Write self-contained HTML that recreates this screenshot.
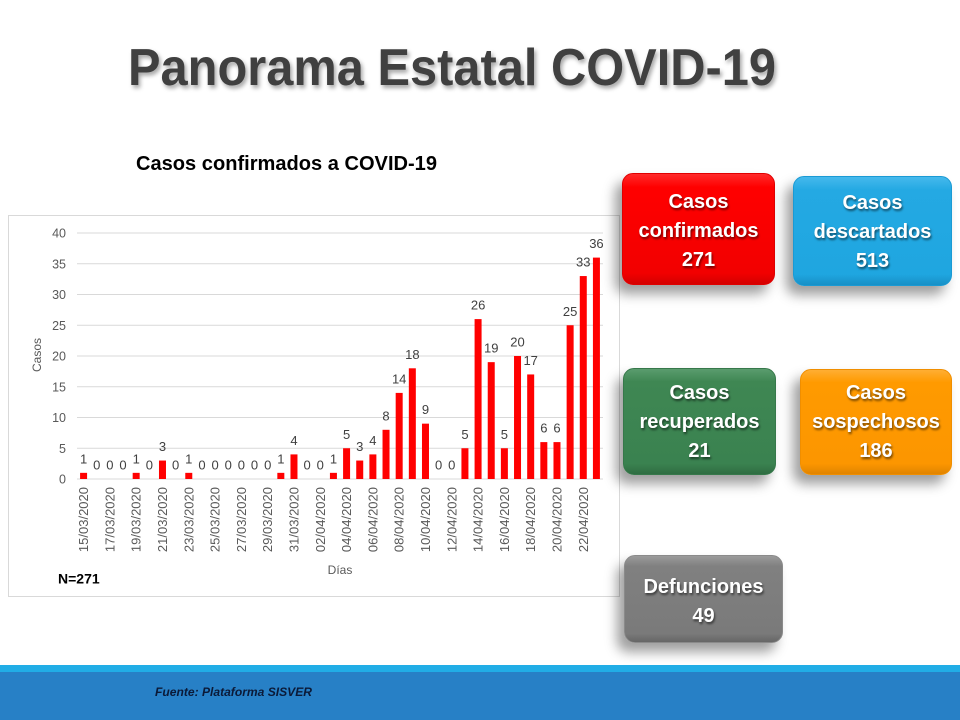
<!DOCTYPE html>
<html><head><meta charset="utf-8"><style>
html,body{margin:0;padding:0;background:#fff;}
#w{position:relative;width:960px;height:720px;overflow:hidden;background:#fff;font-family:"Liberation Sans",sans-serif;}
svg{position:absolute;left:0;top:0;}
.box{position:absolute;border-radius:11px;box-shadow:-7px 9px 12px rgba(0,0,0,0.38);color:#fff;font-weight:bold;font-size:20px;line-height:29px;text-align:center;text-shadow:1px 2px 2px rgba(0,0,0,0.55);box-sizing:border-box;}
.box .t{position:absolute;left:0;right:0;}
</style></head><body><div id="w">
<svg width="960" height="720" viewBox="0 0 960 720" font-family="Liberation Sans, sans-serif">
<defs><filter id="ts" x="-5%" y="-20%" width="115%" height="150%"><feDropShadow dx="2" dy="3" stdDeviation="2" flood-color="#000" flood-opacity="0.35"/></filter></defs>
<text x="128" y="85" font-size="52" font-weight="bold" fill="#404040" textLength="648" lengthAdjust="spacingAndGlyphs" filter="url(#ts)">Panorama Estatal COVID-19</text>
<text x="136" y="170" font-size="20" font-weight="bold" fill="#000" textLength="301" lengthAdjust="spacingAndGlyphs">Casos confirmados a COVID-19</text>
<rect x="8.5" y="215.5" width="611" height="381" fill="#fff" stroke="#d9d9d9" stroke-width="1"/>
<g stroke="#d9d9d9" stroke-width="1">
<line x1="77" x2="603" y1="479" y2="479"/><line x1="77" x2="603" y1="448.25" y2="448.25"/><line x1="77" x2="603" y1="417.5" y2="417.5"/><line x1="77" x2="603" y1="386.75" y2="386.75"/><line x1="77" x2="603" y1="356" y2="356"/><line x1="77" x2="603" y1="325.25" y2="325.25"/><line x1="77" x2="603" y1="294.5" y2="294.5"/><line x1="77" x2="603" y1="263.75" y2="263.75"/><line x1="77" x2="603" y1="233" y2="233"/>
</g>
<g font-size="12.5" fill="#595959" text-anchor="end">
<text x="66" y="483.5">0</text><text x="66" y="452.75">5</text><text x="66" y="422">10</text><text x="66" y="391.25">15</text><text x="66" y="360.5">20</text><text x="66" y="329.75">25</text><text x="66" y="299">30</text><text x="66" y="268.25">35</text><text x="66" y="237.5">40</text>
</g>
<text transform="translate(41,355) rotate(-90)" font-size="12" fill="#595959" text-anchor="middle">Casos</text>
<text x="340" y="574" font-size="12" fill="#595959" text-anchor="middle">Días</text>
<g fill="#ff0000">
<rect x="80.08" y="472.85" width="7" height="6.15"/>
<rect x="132.68" y="472.85" width="7" height="6.15"/>
<rect x="158.98" y="460.55" width="7" height="18.45"/>
<rect x="185.28" y="472.85" width="7" height="6.15"/>
<rect x="277.33" y="472.85" width="7" height="6.15"/>
<rect x="290.48" y="454.4" width="7" height="24.6"/>
<rect x="329.93" y="472.85" width="7" height="6.15"/>
<rect x="343.08" y="448.25" width="7" height="30.75"/>
<rect x="356.23" y="460.55" width="7" height="18.45"/>
<rect x="369.38" y="454.4" width="7" height="24.6"/>
<rect x="382.53" y="429.8" width="7" height="49.2"/>
<rect x="395.68" y="392.9" width="7" height="86.1"/>
<rect x="408.83" y="368.3" width="7" height="110.7"/>
<rect x="421.98" y="423.65" width="7" height="55.35"/>
<rect x="461.43" y="448.25" width="7" height="30.75"/>
<rect x="474.58" y="319.1" width="7" height="159.9"/>
<rect x="487.73" y="362.15" width="7" height="116.85"/>
<rect x="500.88" y="448.25" width="7" height="30.75"/>
<rect x="514.03" y="356" width="7" height="123"/>
<rect x="527.18" y="374.45" width="7" height="104.55"/>
<rect x="540.33" y="442.1" width="7" height="36.9"/>
<rect x="553.48" y="442.1" width="7" height="36.9"/>
<rect x="566.63" y="325.25" width="7" height="153.75"/>
<rect x="579.78" y="276.05" width="7" height="202.95"/>
<rect x="592.93" y="257.6" width="7" height="221.4"/>
</g>
<g font-size="13" fill="#404040" text-anchor="middle">
<text x="83.58" y="463.35">1</text>
<text x="96.73" y="469.5">0</text>
<text x="109.88" y="469.5">0</text>
<text x="123.03" y="469.5">0</text>
<text x="136.18" y="463.35">1</text>
<text x="149.33" y="469.5">0</text>
<text x="162.48" y="451.05">3</text>
<text x="175.63" y="469.5">0</text>
<text x="188.78" y="463.35">1</text>
<text x="201.93" y="469.5">0</text>
<text x="215.08" y="469.5">0</text>
<text x="228.23" y="469.5">0</text>
<text x="241.38" y="469.5">0</text>
<text x="254.53" y="469.5">0</text>
<text x="267.68" y="469.5">0</text>
<text x="280.83" y="463.35">1</text>
<text x="293.98" y="444.9">4</text>
<text x="307.13" y="469.5">0</text>
<text x="320.28" y="469.5">0</text>
<text x="333.43" y="463.35">1</text>
<text x="346.58" y="438.75">5</text>
<text x="359.73" y="451.05">3</text>
<text x="372.88" y="444.9">4</text>
<text x="386.03" y="420.3">8</text>
<text x="399.18" y="383.4">14</text>
<text x="412.33" y="358.8">18</text>
<text x="425.48" y="414.15">9</text>
<text x="438.63" y="469.5">0</text>
<text x="451.78" y="469.5">0</text>
<text x="464.93" y="438.75">5</text>
<text x="478.08" y="309.6">26</text>
<text x="491.23" y="352.65">19</text>
<text x="504.38" y="438.75">5</text>
<text x="517.53" y="346.5">20</text>
<text x="530.68" y="364.95">17</text>
<text x="543.83" y="432.6">6</text>
<text x="556.98" y="432.6">6</text>
<text x="570.13" y="315.75">25</text>
<text x="583.28" y="266.55">33</text>
<text x="596.43" y="248.1">36</text>
</g>
<g font-size="13" fill="#595959" text-anchor="end">
<text transform="translate(88.08,487) rotate(-90)">15/03/2020</text>
<text transform="translate(114.38,487) rotate(-90)">17/03/2020</text>
<text transform="translate(140.68,487) rotate(-90)">19/03/2020</text>
<text transform="translate(166.98,487) rotate(-90)">21/03/2020</text>
<text transform="translate(193.28,487) rotate(-90)">23/03/2020</text>
<text transform="translate(219.58,487) rotate(-90)">25/03/2020</text>
<text transform="translate(245.88,487) rotate(-90)">27/03/2020</text>
<text transform="translate(272.18,487) rotate(-90)">29/03/2020</text>
<text transform="translate(298.48,487) rotate(-90)">31/03/2020</text>
<text transform="translate(324.78,487) rotate(-90)">02/04/2020</text>
<text transform="translate(351.08,487) rotate(-90)">04/04/2020</text>
<text transform="translate(377.38,487) rotate(-90)">06/04/2020</text>
<text transform="translate(403.68,487) rotate(-90)">08/04/2020</text>
<text transform="translate(429.98,487) rotate(-90)">10/04/2020</text>
<text transform="translate(456.28,487) rotate(-90)">12/04/2020</text>
<text transform="translate(482.58,487) rotate(-90)">14/04/2020</text>
<text transform="translate(508.88,487) rotate(-90)">16/04/2020</text>
<text transform="translate(535.18,487) rotate(-90)">18/04/2020</text>
<text transform="translate(561.48,487) rotate(-90)">20/04/2020</text>
<text transform="translate(587.78,487) rotate(-90)">22/04/2020</text>
</g>
<text x="58" y="583.5" font-size="14" font-weight="bold" fill="#000">N=271</text>
<rect x="0" y="665" width="960" height="7" fill="#21ade6"/>
<rect x="0" y="672" width="960" height="48" fill="#2780c6"/>
<text x="155" y="696" font-size="12" font-weight="bold" font-style="italic" fill="#0b1a38" textLength="157" lengthAdjust="spacingAndGlyphs">Fuente: Plataforma  SISVER</text>
</svg>

<div class="box" style="left:622px;top:173px;width:153px;height:112px;background:linear-gradient(#ff2a2a,#ff0000 12%,#f20000 90%,#d40000);border:1px solid #e00000;">
<div class="t" style="top:14px;">Casos<br>confirmados<br>271</div></div>
<div class="box" style="left:793px;top:176px;width:159px;height:110px;background:linear-gradient(#45b9ec,#24a9e3 12%,#1fa6e0 90%,#1890c6);border:1px solid #1a9ad4;">
<div class="t" style="top:12px;">Casos<br>descartados<br>513</div></div>
<div class="box" style="left:623px;top:368px;width:153px;height:107px;background:linear-gradient(#5a9c6e,#3f8753 12%,#3a8250 90%,#2f6d42);border:1px solid #36784a;">
<div class="t" style="top:10px;">Casos<br>recuperados<br>21</div></div>
<div class="box" style="left:800px;top:369px;width:152px;height:106px;background:linear-gradient(#ffae33,#ff9a00 12%,#fc9600 90%,#e08400);border:1px solid #f08e00;">
<div class="t" style="top:9px;">Casos<br>sospechosos<br>186</div></div>
<div class="box" style="left:624px;top:555px;width:159px;height:88px;background:linear-gradient(#9a9a9a,#808080 12%,#7a7a7a 90%,#666);border:1px solid #8a8a8a;">
<div class="t" style="top:17px;">Defunciones<br>49</div></div>
</div></body></html>
